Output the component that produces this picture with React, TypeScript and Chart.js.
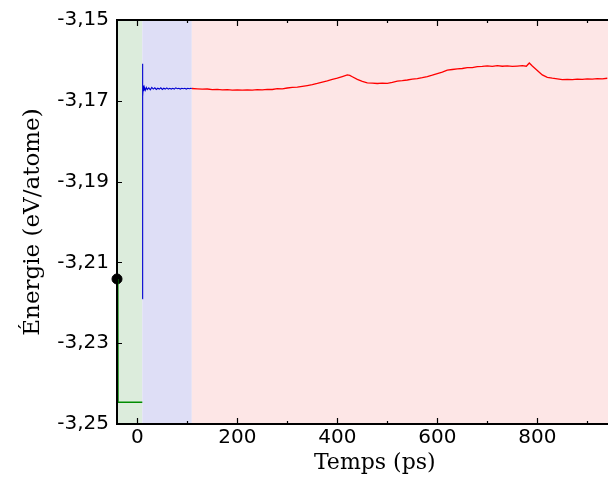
import React, { useEffect, useRef } from "react";
import { Chart, registerables } from "chart.js";

Chart.register(...registerables);

// ---- data ----
const xRange = [-40.6, 941.4];
const yRange = [-3.25, -3.15];
const xTickValues = [0, 200, 400, 600, 800];
const xMinorTickValues = [0, 100, 200, 300, 400, 500, 600, 700, 800, 900];
const yTickValues = [-3.25, -3.23, -3.21, -3.19, -3.17, -3.15];

const regionStarts = [-40.6, 10, 109];
const regionEnds = [10, 109, 941.4];
const regionColors = ["#dcecdc", "#dedef6", "#fde6e6"];

const startX = [-40.6];
const startY = [-3.2141];

const greenX = [-39, -38.6, 10];
const greenY = [-3.2141, -3.2446, -3.2446];

const blueX = [10, 10.4, 11, 12, 13, 14, 16, 18, 20, 23, 26, 29, 32, 35, 38, 41, 44, 47, 50, 53, 56, 59, 62, 65, 68, 71, 74, 77, 80, 83, 86, 89, 92, 95, 98, 101, 104, 107, 109];
const blueY = [-3.219, -3.1608, -3.169, -3.1662, -3.1676, -3.1666, -3.1674, -3.1667, -3.1672, -3.1668, -3.1673, -3.1667, -3.1671, -3.1668, -3.1672, -3.1669, -3.1671, -3.1668, -3.1672, -3.1669, -3.1671, -3.1668, -3.1671, -3.1669, -3.1671, -3.1669, -3.1671, -3.1668, -3.167, -3.1669, -3.1671, -3.1669, -3.167, -3.1669, -3.1671, -3.1669, -3.167, -3.1669, -3.16695];

const redX = [109, 120, 130, 140, 150, 160, 170, 180, 190, 200, 210, 220, 230, 240, 250, 260, 270, 280, 290, 300, 310, 320, 330, 340, 350, 360, 370, 380, 390, 400, 410, 420, 425, 430, 440, 450, 460, 470, 480, 490, 500, 510, 520, 530, 540, 550, 560, 570, 580, 590, 600, 610, 620, 630, 640, 650, 660, 670, 680, 690, 700, 710, 720, 730, 740, 750, 760, 770, 778, 784, 790, 800, 810, 820, 830, 840, 850, 860, 870, 880, 890, 900, 910, 920, 930, 940];
const redY = [-3.16695, -3.16705, -3.16712, -3.16708, -3.16722, -3.16718, -3.16728, -3.16725, -3.16735, -3.1673, -3.16738, -3.16728, -3.16735, -3.16725, -3.1673, -3.16715, -3.1672, -3.167, -3.16705, -3.16683, -3.1667, -3.1666, -3.16642, -3.16622, -3.166, -3.1657, -3.16536, -3.16505, -3.1647, -3.1644, -3.164, -3.16359, -3.16372, -3.16405, -3.1647, -3.1652, -3.16555, -3.1656, -3.16572, -3.16562, -3.16568, -3.16545, -3.16512, -3.165, -3.16485, -3.16465, -3.1645, -3.16428, -3.164, -3.16365, -3.16325, -3.1629, -3.1624, -3.16225, -3.1621, -3.162, -3.16178, -3.1618, -3.16155, -3.16148, -3.16135, -3.1615, -3.1613, -3.16145, -3.16135, -3.1615, -3.1614, -3.1613, -3.16145, -3.16064, -3.1614, -3.1625, -3.1636, -3.1642, -3.1644, -3.16455, -3.16474, -3.1647, -3.16478, -3.16462, -3.16468, -3.16458, -3.16462, -3.1645, -3.16455, -3.16442];

const xTitle = "Temps (ps)";
const yTitle = "Énergie (eV/atome)";

const pts = (xs: number[], ys: number[]) => xs.map((x, i) => ({ x, y: ys[i] }));
const fmtY = (v: number) => v.toFixed(2).replace(".", ",");

const framePlugin = {
  id: "frame",
  beforeDatasetsDraw(chart: any) {
    const { ctx, chartArea } = chart;
    const xs = chart.scales.x;
    ctx.save();
    regionStarts.forEach((s, i) => {
      const a = Math.max(xs.getPixelForValue(s), chartArea.left);
      const b = Math.min(xs.getPixelForValue(regionEnds[i]), chartArea.right);
      ctx.fillStyle = regionColors[i];
      ctx.fillRect(a, chartArea.top, b - a, chartArea.bottom - chartArea.top);
    });
    ctx.restore();
  },
  afterDraw(chart: any) {
    const { ctx, chartArea } = chart;
    const { left, right, top, bottom } = chartArea;
    const xs = chart.scales.x;
    const ys = chart.scales.y;
    ctx.save();
    ctx.strokeStyle = "#000";
    ctx.lineWidth = 1.2;
    ctx.beginPath();
    yTickValues.forEach((v) => {
      const py = Math.round(ys.getPixelForValue(v)) + 0.5;
      ctx.moveTo(left, py);
      ctx.lineTo(left + 5, py);
    });
    xMinorTickValues.forEach((v) => {
      const px = Math.round(xs.getPixelForValue(v)) + 0.5;
      const len = v % 200 === 0 ? 6 : 3;
      ctx.moveTo(px, bottom);
      ctx.lineTo(px, bottom - len);
      ctx.moveTo(px, top);
      ctx.lineTo(px, top + len);
    });
    ctx.stroke();
    ctx.lineWidth = 2;
    ctx.strokeRect(left, top, right - left + 4, bottom - top);
    // x-axis title (centred on the uncropped plot width)
    ctx.fillStyle = "#000";
    ctx.font = "22px 'DejaVu Serif'";
    ctx.textAlign = "center";
    ctx.textBaseline = "middle";
    ctx.fillText(xTitle, left + (right - left) * 0.525, 463);
    ctx.restore();
  },
};

export default function App() {
  const ref = useRef<HTMLCanvasElement | null>(null);
  useEffect(() => {
    if (!ref.current) return;
    const chart = new Chart(ref.current, {
      type: "line",
      data: {
        datasets: [
          { data: pts(greenX, greenY), borderColor: "#008c00", borderWidth: 1.5, pointRadius: 0 },
          { data: pts(blueX, blueY), borderColor: "#0000d0", borderWidth: 1.1, pointRadius: 0 },
          { data: pts(redX, redY), borderColor: "#ff0000", borderWidth: 1.3, pointRadius: 0 },
          {
            data: pts(startX, startY),
            showLine: false,
            pointRadius: 5,
            pointBackgroundColor: "#000",
            pointBorderColor: "#000",
            clip: false as any,
          },
        ],
      },
      options: {
        animation: false,
        responsive: false,
        maintainAspectRatio: false,
        parsing: false as any,
        layout: { autoPadding: false, padding: { top: 17, right: 0, bottom: 0, left: 0 } },
        plugins: { legend: { display: false }, tooltip: { enabled: false } },
        elements: { line: { tension: 0 } },
        scales: {
          x: {
            type: "linear",
            min: xRange[0],
            max: xRange[1],
            grid: { display: false, drawTicks: false },
            border: { display: false },
            afterBuildTicks: (s: any) => {
              s.ticks = xTickValues.map((value) => ({ value }));
            },
            afterFit: (s: any) => {
              s.height = 58;
            },
            ticks: {
              padding: 2,
              color: "#000",
              font: { family: "DejaVu Sans", size: 20 },
              maxRotation: 0,
              autoSkip: false,
            },
            title: { display: false },
          },
          y: {
            type: "linear",
            min: yRange[0],
            max: yRange[1],
            grid: { display: false, drawTicks: false },
            border: { display: false },
            afterBuildTicks: (s: any) => {
              s.ticks = yTickValues.map((value) => ({ value }));
            },
            afterFit: (s: any) => {
              s.width = 117;
            },
            ticks: {
              padding: 8,
              color: "#000",
              font: { family: "DejaVu Sans", size: 20 },
              callback: (v: any) => fmtY(Number(v)),
              autoSkip: false,
            },
            title: {
              display: true,
              text: yTitle,
              color: "#000",
              font: { family: "DejaVu Serif", size: 23 },
              padding: { top: 19, bottom: 0 },
            },
          },
        },
      },
      plugins: [framePlugin],
    });
    return () => chart.destroy();
  }, []);
  return (
    <div style={{ position: "fixed", left: 0, top: 0, width: 608, height: 482, background: "#fff" }}>
      <canvas ref={ref} width={608} height={482} style={{ width: 608, height: 482 }} />
    </div>
  );
}
